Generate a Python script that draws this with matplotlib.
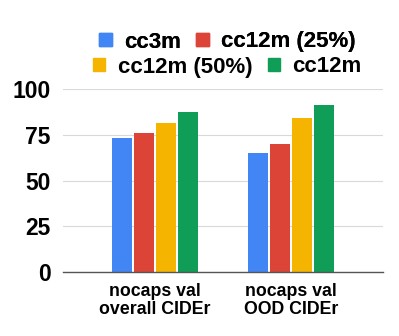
import numpy as np
import matplotlib.pyplot as plt
from matplotlib.patches import Patch

categories = ["nocaps val\noverall CIDEr", "nocaps val\nOOD CIDEr"]
series = ["cc3m", "cc12m (25%)", "cc12m (50%)", "cc12m"]
cc3m = [73.1, 65.0]
cc12m_25 = [76.2, 70.0]
cc12m_50 = [81.7, 84.3]
cc12m = [87.4, 91.2]
colors = ["#4285F4", "#DB4437", "#F4B400", "#0F9D58"]

plt.rcParams["font.family"] = "Liberation Sans"
plt.rcParams["font.weight"] = "bold"

fig = plt.figure(figsize=(3.99, 3.36), dpi=100)
ax = fig.add_axes([0.158, 0.191, 0.802, 0.543])

x = np.arange(len(categories))
slot = 0.162
width = 0.147
for i, vals in enumerate([cc3m, cc12m_25, cc12m_50, cc12m]):
    ax.bar(x + (i - 1.5) * slot, vals, width, color=colors[i], zorder=3)

ax.set_xlim(-0.676, 1.676)
ax.set_ylim(0, 100)
ax.set_yticks([0, 25, 50, 75, 100])
ax.set_xticks(x)
ax.set_xticklabels(categories, fontsize=12.8, fontweight="bold", linespacing=1.05)
ax.tick_params(axis="y", labelsize=16.5, length=0, pad=9)
ax.tick_params(axis="x", length=0, pad=8)
ax.grid(axis="y", color="#d9d9d9", linewidth=0.8, zorder=0)
for s in ["top", "right", "left"]:
    ax.spines[s].set_visible(False)
ax.spines["bottom"].set_color("#555555")
ax.spines["bottom"].set_linewidth(1.0)
ax.spines["bottom"].set_zorder(4)

handles = [Patch(color=c, label=s) for c, s in zip(colors, series)]
leg_kw = dict(ncol=2, frameon=False, prop={"size": 16, "weight": "bold"},
              handlelength=0.55, handleheight=0.55, handletextpad=0.55,
              columnspacing=0.7, borderpad=0, loc="center")
leg1 = fig.legend(handles=handles[:2], bbox_to_anchor=(0.57, 1 - 42 / 336), **leg_kw)
fig.add_artist(leg1)
fig.legend(handles=handles[2:], bbox_to_anchor=(0.57, 1 - 67 / 336), **leg_kw)

fig.savefig("out.png", dpi=100)
